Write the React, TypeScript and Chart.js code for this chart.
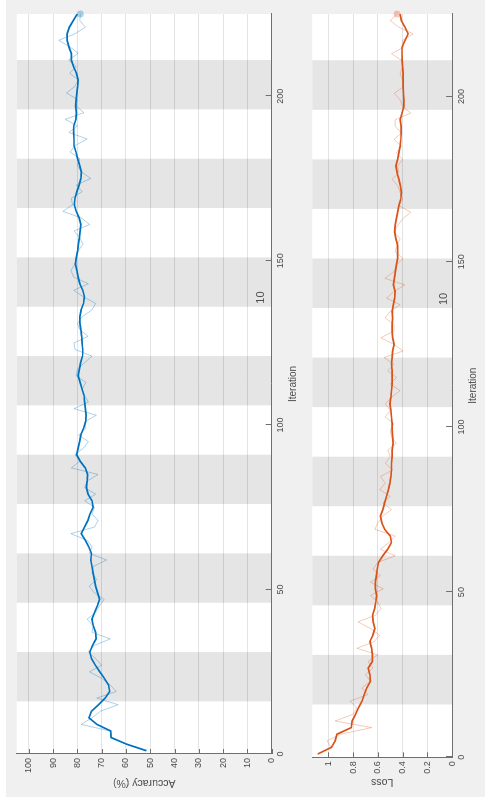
import React, { useEffect, useRef } from "react";
import { Chart, registerables } from "chart.js";

Chart.register(...registerables);

// ---------- data ----------
const iterations = [
  1, 3, 5, 7, 9, 11, 13, 15, 17, 19,
  21, 23, 25, 27, 29, 31, 33, 35, 37, 39,
  41, 43, 45, 47, 49, 51, 53, 55, 57, 59,
  61, 63, 65, 67, 69, 71, 73, 75, 77, 79,
  81, 83, 85, 87, 89, 91, 93, 95, 97, 99,
  101, 103, 105, 107, 109, 111, 113, 115, 117, 119,
  121, 123, 125, 127, 129, 131, 133, 135, 137, 139,
  141, 143, 145, 147, 149, 151, 153, 155, 157, 159,
  161, 163, 165, 167, 169, 171, 173, 175, 177, 179,
  181, 183, 185, 187, 189, 191, 193, 195, 197, 199,
  201, 203, 205, 207, 209, 211, 213, 215, 217, 219,
  221, 223, 225,
];

const accuracySmoothed = [
  51.6, 59.8, 66.1, 66.3, 72.0, 75.2, 74.2, 71.3, 68.6, 66.7,
  67.2, 68.9, 70.8, 72.6, 74.2, 74.9, 73.8, 72.3, 72.5, 73.5,
  74.0, 73.0, 71.8, 70.9, 71.7, 72.5, 73.0, 73.5, 74.0, 74.5,
  74.2, 75.3, 76.8, 78.4, 77.1, 75.7, 74.8, 73.5, 74.0, 75.6,
  76.3, 76.0, 75.8, 76.8, 78.8, 80.3, 79.7, 79.1, 78.6, 77.5,
  76.6, 76.4, 76.7, 77.0, 77.3, 78.1, 78.9, 79.7, 79.2, 78.7,
  77.9, 77.8, 78.1, 78.3, 78.6, 79.0, 79.0, 78.5, 77.5, 77.1,
  77.8, 79.0, 79.7, 80.2, 80.8, 80.4, 79.9, 79.6, 79.2, 78.9,
  78.6, 79.3, 80.5, 81.3, 81.0, 80.2, 79.3, 78.6, 78.4, 79.1,
  79.9, 80.6, 81.4, 81.4, 81.6, 81.5, 80.6, 80.4, 80.7, 80.5,
  80.2, 79.9, 79.7, 80.4, 81.6, 82.5, 82.5, 83.5, 84.2, 84.2,
  83.3, 81.7, 80.1,
];

const accuracyRaw = [
  51.6, 59.8, 66.0, 66.5, 78.5, 74.0, 70.5, 63.3, 72.0, 64.0,
  66.5, 70.0, 75.0, 70.0, 72.5, 75.5, 73.0, 66.5, 74.0, 73.5,
  76.0, 72.5, 71.0, 69.0, 73.0, 75.2, 72.0, 74.0, 73.5, 68.0,
  75.0, 74.0, 76.0, 82.7, 73.0, 71.5, 74.0, 73.0, 77.0, 72.5,
  77.0, 76.0, 71.5, 82.5, 79.0, 81.0, 77.5, 75.5, 79.5, 76.5,
  77.0, 72.2, 81.4, 75.5, 77.0, 78.0, 76.5, 80.5, 80.0, 77.0,
  74.0, 81.0, 81.4, 75.6, 79.0, 80.0, 78.0, 74.0, 72.5, 77.5,
  81.5, 75.5, 81.5, 82.7, 81.0, 80.5, 79.7, 77.7, 79.0, 81.4,
  75.0, 78.4, 86.0, 82.0, 82.5, 78.0, 80.5, 74.5, 78.4, 80.0,
  79.0, 83.0, 81.0, 76.0, 83.5, 80.0, 85.0, 77.3, 80.5, 80.0,
  84.5, 81.0, 79.7, 83.2, 80.5, 83.6, 79.7, 83.0, 87.7, 81.0,
  76.7, 79.0, 78.8,
];

const lossSmoothed = [
  1.086, 0.975, 0.945, 0.93, 0.815, 0.808, 0.78, 0.757, 0.728, 0.71,
  0.69, 0.66, 0.665, 0.678, 0.645, 0.645, 0.65, 0.665, 0.64, 0.625,
  0.638, 0.643, 0.626, 0.617, 0.61, 0.62, 0.62, 0.612, 0.605, 0.595,
  0.56, 0.52, 0.49, 0.5, 0.545, 0.568, 0.58, 0.56, 0.545, 0.53,
  0.515, 0.503, 0.495, 0.49, 0.49, 0.485, 0.485, 0.476, 0.48, 0.485,
  0.485, 0.49, 0.495, 0.503, 0.495, 0.49, 0.485, 0.485, 0.485, 0.49,
  0.485, 0.48, 0.468, 0.48, 0.485, 0.485, 0.48, 0.485, 0.475, 0.465,
  0.46, 0.475, 0.466, 0.458, 0.45, 0.44, 0.44, 0.44, 0.455, 0.465,
  0.46, 0.45, 0.44, 0.43, 0.415, 0.41, 0.418, 0.43, 0.445, 0.455,
  0.44, 0.43, 0.42, 0.415, 0.412, 0.412, 0.42, 0.405, 0.39, 0.39,
  0.393, 0.396, 0.396, 0.396, 0.4, 0.404, 0.405, 0.405, 0.38, 0.355,
  0.38, 0.41, 0.42,
];

const lossRaw = [
  1.086, 0.98, 1.01, 0.9, 0.65, 0.946, 0.8, 0.77, 0.825, 0.68,
  0.73, 0.66, 0.7, 0.64, 0.68, 0.6, 0.77, 0.63, 0.585, 0.66,
  0.76, 0.62, 0.575, 0.6, 0.66, 0.557, 0.66, 0.58, 0.64, 0.6,
  0.46, 0.58, 0.51, 0.46, 0.624, 0.6, 0.56, 0.49, 0.56, 0.5,
  0.584, 0.54, 0.58, 0.48, 0.54, 0.5, 0.52, 0.45, 0.49, 0.5,
  0.47, 0.54, 0.5, 0.54, 0.49, 0.42, 0.5, 0.45, 0.52, 0.47,
  0.55, 0.396, 0.47, 0.576, 0.47, 0.47, 0.54, 0.5, 0.42, 0.53,
  0.47, 0.382, 0.543, 0.47, 0.45, 0.396, 0.46, 0.445, 0.42, 0.468,
  0.44, 0.4, 0.334, 0.43, 0.4, 0.42, 0.44, 0.485, 0.43, 0.44,
  0.4, 0.45, 0.41, 0.47, 0.41, 0.46, 0.46, 0.334, 0.4, 0.42,
  0.468, 0.39, 0.4, 0.42, 0.4, 0.41, 0.49, 0.39, 0.4, 0.315,
  0.43, 0.5, 0.446,
];

// shaded epochs (start iteration of every other epoch) and epoch length
const epochBandStarts = [16, 46, 76, 106, 136, 166, 196];
const epochLength = 15;
const epochLabelText = "10";
const epochLabelIteration = 136;

const iterationMax = 225;
const iterationStep = 50;
const accuracyMax = 105;
const accuracyStep = 10;
const lossMax = 1.13;
const lossStep = 0.2;

// ---------- styling ----------
const FONT = "'Liberation Sans', Arial, Helvetica, sans-serif";
const TEXT = "#4a4a4a";
const AXIS = "#6f6f6f";
const W = 809;
const H = 485;

type Panel = {
  raw: number[];
  smooth: number[];
  dark: string;
  light: string;
  yMax: number;
  yStep: number;
  yTitle: string;
  fmt: (v: number) => string;
  canvasH: number;
  plotLeft: number;
  padTop: number;
  xAxisH: number;
  xTickPad: number;
  xTitlePad: number;
  yTitlePad: number;
  labelGap: number;
};

const decorPlugin = {
  id: "decor",
  beforeDraw(chart: any, _args: any, opts: any) {
    const { ctx, chartArea: a, scales } = chart;
    const x = scales.x;
    ctx.save();
    ctx.fillStyle = "#ffffff";
    ctx.fillRect(a.left, a.top, a.right - a.left, a.bottom - a.top);
    ctx.fillStyle = "#e5e5e5";
    epochBandStarts.forEach((s) => {
      const x0 = x.getPixelForValue(s);
      const x1 = x.getPixelForValue(Math.min(s + epochLength, iterationMax));
      ctx.fillRect(x0, a.top, x1 - x0, a.bottom - a.top);
    });
    ctx.restore();
  },
  afterDraw(chart: any, _args: any, opts: any) {
    const { ctx, chartArea: a, scales } = chart;
    const x = scales.x;
    const y = scales.y;
    ctx.save();
    ctx.strokeStyle = AXIS;
    ctx.lineWidth = 1;
    ctx.beginPath();
    x.ticks.forEach((_t: any, i: number) => {
      const px = Math.round(x.getPixelForTick(i)) + 0.5;
      ctx.moveTo(px, a.bottom);
      ctx.lineTo(px, a.bottom - 6);
    });
    y.ticks.forEach((_t: any, i: number) => {
      const py = Math.round(y.getPixelForTick(i)) + 0.5;
      ctx.moveTo(a.left, py);
      ctx.lineTo(a.left + 5, py);
    });
    ctx.stroke();
    ctx.fillStyle = TEXT;
    ctx.font = `11px ${FONT}`;
    ctx.textAlign = "left";
    ctx.textBaseline = "alphabetic";
    ctx.fillText(
      epochLabelText,
      x.getPixelForValue(epochLabelIteration) + 3,
      a.bottom - (opts.labelGap ?? 6)
    );
    ctx.restore();
  },
};

function makeConfig(p: Panel): any {
  const last = iterations.length - 1;
  return {
    type: "line",
    data: {
      datasets: [
        {
          data: iterations.map((it, i) => ({ x: it, y: p.smooth[i] })),
          borderColor: p.dark,
          borderWidth: 1.7,
          pointRadius: 0,
          tension: 0,
          fill: false,
        },
        {
          data: iterations.map((it, i) => ({ x: it, y: p.raw[i] })),
          borderColor: p.light,
          borderWidth: 1,
          backgroundColor: p.light,
          pointBackgroundColor: p.light,
          pointBorderWidth: 0,
          pointRadius: (c: any) => (c.dataIndex === last ? 3.5 : 0),
          tension: 0,
          fill: false,
          clip: false,
        },
      ],
    },
    options: {
      animation: false,
      responsive: false,
      devicePixelRatio: 1,
      events: [],
      layout: { padding: { top: p.padTop, right: W - 795, left: 0, bottom: 0 } },
      plugins: {
        legend: { display: false },
        tooltip: { enabled: false },
        decor: { labelGap: p.labelGap },
      },
      scales: {
        x: {
          type: "linear",
          min: 0,
          max: iterationMax,
          afterFit: (s: any) => {
            s.height = p.xAxisH;
          },
          grid: { display: false, drawTicks: false },
          border: { display: true, color: AXIS, width: 1 },
          ticks: {
            stepSize: iterationStep,
            includeBounds: false,
            autoSkip: false,
            maxRotation: 0,
            padding: p.xTickPad,
            color: TEXT,
            font: { family: FONT, size: 9 },
          },
          title: {
            display: true,
            text: "Iteration",
            color: TEXT,
            font: { family: FONT, size: 10 },
            padding: { top: 0, bottom: p.xTitlePad },
          },
        },
        y: {
          type: "linear",
          min: 0,
          max: p.yMax,
          afterFit: (s: any) => {
            s.width = p.plotLeft;
          },
          grid: { color: "rgba(0,0,0,0.11)", drawTicks: false, lineWidth: 1 },
          border: { display: true, color: AXIS, width: 1 },
          ticks: {
            stepSize: p.yStep,
            includeBounds: false,
            autoSkip: false,
            padding: 4,
            color: TEXT,
            font: { family: FONT, size: 9 },
            callback: (v: any) => p.fmt(Number(v)),
          },
          title: {
            display: true,
            text: p.yTitle,
            color: TEXT,
            font: { family: FONT, size: 10.5 },
            padding: { top: p.yTitlePad, bottom: 0 },
          },
        },
      },
    },
    plugins: [decorPlugin],
  };
}

const accuracyPanel: Panel = {
  raw: accuracyRaw,
  smooth: accuracySmoothed,
  dark: "#0072BD",
  light: "rgba(0,114,189,0.32)",
  yMax: accuracyMax,
  yStep: accuracyStep,
  yTitle: "Accuracy (%)",
  fmt: (v) => String(Math.round(v)),
  canvasH: 302,
  plotLeft: 55,
  padTop: 16.7,
  xAxisH: 302 - 271.7,
  xTickPad: 3,
  xTitlePad: 3,
  yTitlePad: 19.5,
  labelGap: 8,
};

const lossPanel: Panel = {
  raw: lossRaw,
  smooth: lossSmoothed,
  dark: "#D95319",
  light: "rgba(217,83,25,0.3)",
  yMax: lossMax,
  yStep: lossStep,
  yTitle: "Loss",
  fmt: (v) => String(Number(v.toFixed(1))),
  canvasH: H - 302,
  plotLeft: 51.7,
  padTop: 312.3 - 302,
  xAxisH: H - 452.1,
  xTickPad: 4,
  xTitlePad: 6,
  yTitlePad: 20.5,
  labelGap: 5,
};

export default function App() {
  const accRef = useRef<HTMLCanvasElement | null>(null);
  const lossRef = useRef<HTMLCanvasElement | null>(null);

  useEffect(() => {
    const charts: Chart[] = [];
    if (accRef.current) charts.push(new Chart(accRef.current, makeConfig(accuracyPanel)));
    if (lossRef.current) charts.push(new Chart(lossRef.current, makeConfig(lossPanel)));
    return () => charts.forEach((c) => c.destroy());
  }, []);

  return (
    <div
      style={{
        position: "fixed",
        left: 0,
        top: 0,
        width: W,
        height: H,
        background: "#ffffff",
        transformOrigin: "0 0",
        transform: `translateY(${W}px) rotate(-90deg)`,
        overflow: "hidden",
      }}
    >
      <div
        style={{
          position: "absolute",
          left: 12,
          top: 6,
          width: W - 12,
          height: H - 6,
          background: "#f0f0f0",
        }}
      />
      <canvas
        ref={accRef}
        width={W}
        height={accuracyPanel.canvasH}
        style={{ position: "absolute", left: 0, top: 0, width: W, height: accuracyPanel.canvasH }}
      />
      <canvas
        ref={lossRef}
        width={W}
        height={lossPanel.canvasH}
        style={{ position: "absolute", left: 0, top: accuracyPanel.canvasH, width: W, height: lossPanel.canvasH }}
      />
    </div>
  );
}
